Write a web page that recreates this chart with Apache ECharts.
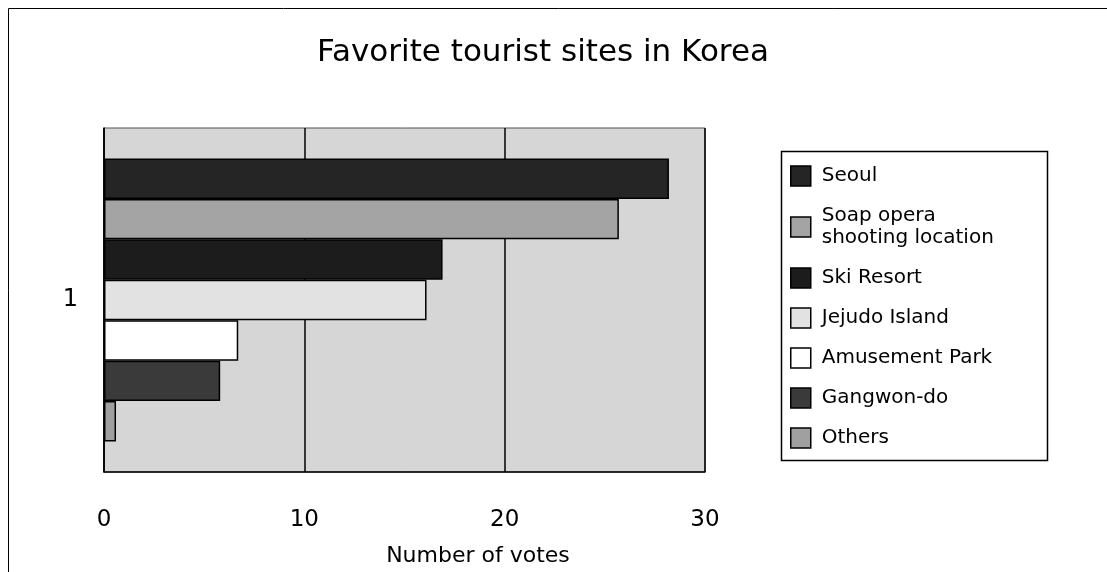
<!DOCTYPE html>
<html>
<head>
<meta charset="utf-8">
<script src="https://cdn.jsdelivr.net/npm/echarts@6/dist/echarts.min.js"></script>
<style>
html,body{margin:0;padding:0;background:#fff;}
#chart{width:1107px;height:572px;}
</style>
</head>
<body>
<div id="chart"></div>
<script>
const titleText = 'Favorite tourist sites in Korea';
const axisTitle = 'Number of votes';
const categories = ['1'];
const seriesNames = ['Seoul', 'Soap opera\nshooting location', 'Ski Resort', 'Jejudo Island', 'Amusement Park', 'Gangwon-do', 'Others'];
const seriesValues = [28.2, 25.7, 16.9, 16.1, 6.7, 5.8, 0.6];
const seriesColors = ['#252525', '#a4a4a4', '#1c1c1c', '#e2e2e2', '#ffffff', '#3a3a3a', '#a0a0a0'];
const xTicks = [0, 10, 20, 30];

const FONT = 'DejaVu Sans';
const chart = echarts.init(document.getElementById('chart'), null, {renderer: 'canvas'});

const series = seriesNames.map((name, i) => ({
  name: name,
  type: 'bar',
  data: [seriesValues[i]],
  barGap: '0%',
  barCategoryGap: '17.7%',
  itemStyle: {color: seriesColors[i], borderColor: '#000', borderWidth: 1.5},
  emphasis: {disabled: true},
  animation: false
}));

chart.setOption({
  animation: false,
  backgroundColor: '#fff',
  graphic: [
    {type: 'rect', shape: {x: 8.5, y: 8.5, width: 1120, height: 600}, style: {fill: 'none', stroke: '#000', lineWidth: 1}, z: -10},
    {type: 'text', x: 543, y: 53, style: {text: titleText, font: '31px "DejaVu Sans"', fill: '#000', textAlign: 'center', textVerticalAlign: 'middle'}},
    {type: 'text', x: 478, y: 556, style: {text: axisTitle, font: '22px "DejaVu Sans"', fill: '#000', textAlign: 'center', textVerticalAlign: 'middle'}},
    {type: 'rect', shape: {x: 781.5, y: 151.5, width: 266, height: 309}, style: {fill: '#fff', stroke: '#000', lineWidth: 1.5}, z: 0}
  ],
  grid: {left: 104, right: 402, top: 128, bottom: 100, show: true, backgroundColor: '#d6d6d6', borderColor: '#555', borderWidth: 1},
  legend: {
    orient: 'vertical', left: 790, top: 165,
    itemWidth: 20, itemHeight: 20, itemGap: 18,
    icon: 'rect', padding: 0, z: 5,
    textStyle: {fontFamily: FONT, fontSize: 20, color: '#000', lineHeight: 22, padding: [0, 0, 0, 6]},
    itemStyle: {borderColor: '#000', borderWidth: 1.5},
    data: seriesNames
  },
  xAxis: {
    type: 'value', min: 0, max: 30, interval: 10,
    axisLine: {show: true, lineStyle: {color: '#000', width: 1.5}},
    axisTick: {show: false},
    splitLine: {show: true, lineStyle: {color: '#000', width: 1.5}},
    axisLabel: {fontFamily: FONT, fontSize: 23, color: '#000', margin: 37,
      formatter: v => xTicks.includes(v) ? String(v) : ''}
  },
  yAxis: {
    type: 'category', data: categories,
    axisLine: {show: true, lineStyle: {color: '#000', width: 1.5}},
    axisTick: {show: false},
    axisLabel: {fontFamily: FONT, fontSize: 24, color: '#000', margin: 26}
  },
  series: series
});
</script>
</body>
</html>
